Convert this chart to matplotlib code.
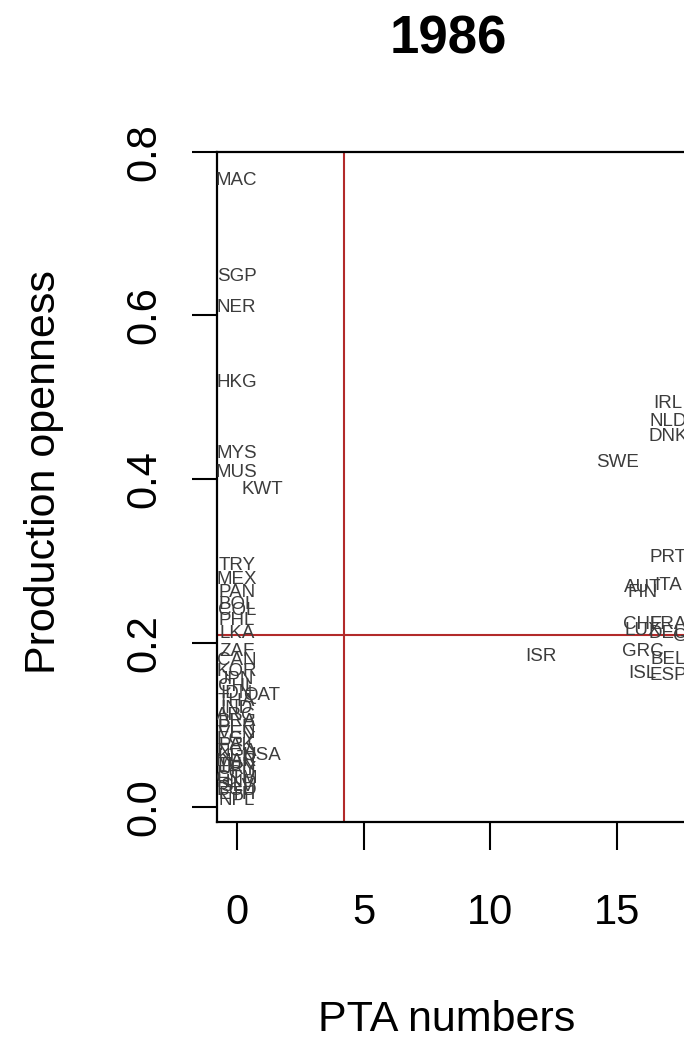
import matplotlib
matplotlib.use("Agg")
import matplotlib.pyplot as plt

# ---- data ----
codes = ["MAC", "SGP", "NER", "HKG", "MYS", "MUS", "KWT",
         "TRY", "MEX", "PAN", "BOL", "COL", "PHL", "LKA", "ZAF", "CAN", "KOR",
         "JPN", "CHL", "QAT", "IDN", "THA", "IND", "ARG", "BRA", "PER", "VEN",
         "EGY", "PAK", "USA", "NGA", "KEN", "MAR", "TUN", "URY", "ECU", "GTM",
         "HND", "SLV", "BGD", "ETH", "NPL",
         "ISR", "SWE", "DNK", "NLD", "IRL", "PRT", "AUT", "FIN", "ITA",
         "CHE", "LUX", "FRA", "DEU", "GBR", "BEL", "GRC", "ISL", "ESP"]
pta = [0, 0, 0, 0, 0, 0, 1,
       0, 0, 0, 0, 0, 0, 0, 0, 0, 0,
       0, 0, 1, 0, 0, 0, 0, 0, 0, 0,
       0, 0, 1, 0, 0, 0, 0, 0, 0, 0,
       0, 0, 0, 0, 0,
       12, 15, 17, 17, 17, 17, 16, 16, 17,
       16, 16, 17, 17, 18, 17, 16, 16, 17]
openness = [0.765, 0.648, 0.610, 0.518, 0.432, 0.408, 0.388,
            0.295, 0.278, 0.262, 0.247, 0.240, 0.228, 0.212, 0.190, 0.178, 0.165,
            0.155, 0.147, 0.136, 0.138, 0.128, 0.120, 0.112, 0.104, 0.097, 0.090,
            0.082, 0.075, 0.063, 0.068, 0.061, 0.055, 0.050, 0.045, 0.040, 0.035,
            0.030, 0.025, 0.020, 0.015, 0.008,
            0.184, 0.420, 0.452, 0.471, 0.492, 0.304, 0.268, 0.262, 0.270,
            0.222, 0.215, 0.222, 0.212, 0.208, 0.180, 0.190, 0.163, 0.160]
mean_pta = 4.23
mean_open = 0.21
xticks = [0, 5, 10, 15]
yticks = [0.0, 0.2, 0.4, 0.6, 0.8]
title = "1986"
xlabel = "PTA numbers"
ylabel = "Production openness"

# ---- figure ----
W, H = 684, 1044
plt.rcParams["font.family"] = ["Liberation Sans", "DejaVu Sans"]
fig = plt.figure(figsize=(W / 100, H / 100), dpi=100)

left_px, right_px, top_px, bot_px = 216.7, 720.0, 151.7, 821.7
ax = fig.add_axes([left_px / W, 1 - bot_px / H,
                   (right_px - left_px) / W, (bot_px - top_px) / H])
ax.set_xlim(-0.788, 19.05)
ax.set_ylim(-0.0183, 0.800)

for c, xv, yv in zip(codes, pta, openness):
    ax.text(xv, yv, c, ha="center", va="center", fontsize=13.5,
            color="#3c3c3c", clip_on=True)

ax.axvline(mean_pta, color="#b22a2a", lw=1.5)
ax.axhline(mean_open, color="#b22a2a", lw=1.5)

for s in ax.spines.values():
    s.set_linewidth(1.6)
    s.set_color("black")
ax.spines["right"].set_visible(False)

ax.set_xticks(xticks)
ax.set_xticklabels([str(t) for t in xticks])
ax.set_yticks(yticks)
ax.set_yticklabels([f"{t:.1f}" for t in yticks], rotation=90, va="center")
ax.tick_params(axis="x", length=20, width=1.5, pad=31, labelsize=30)
ax.tick_params(axis="y", length=18, width=1.5, pad=20, labelsize=30)

fig.text(448 / W, 1 - 39 / H, title, ha="center", va="center",
         fontsize=38, fontweight="bold")
fig.text(447 / W, 1 - 1020 / H, xlabel, ha="center", va="center", fontsize=31)
fig.text(44 / W, 1 - 472 / H, ylabel, ha="center", va="center",
         fontsize=31, rotation=90)

fig.savefig("out.png", dpi=100)
